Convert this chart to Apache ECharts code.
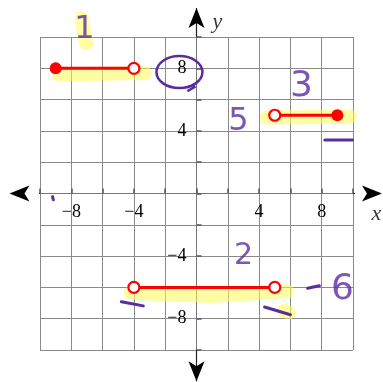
<!DOCTYPE html>
<html>
<head>
<meta charset="utf-8">
<script src="https://cdn.jsdelivr.net/npm/echarts@6/dist/echarts.min.js"></script>
<style>
  html, body { margin: 0; padding: 0; background: #fff; }
  #chart { width: 383px; height: 382px; }
</style>
</head>
<body>
<div id="chart"></div>
<script>
// axis range and labelled ticks
const axisMin = -10
const axisMax = 10
const gridStep = 2
const tickLabels = [-8, -4, 4, 8]

// the three pieces of the graph, with their end point kinds
const seg1 = [[-9, 8], [-4, 8]]
const seg1Ends = ['closed', 'open']
const seg2 = [[-4, -6], [5, -6]]
const seg2Ends = ['open', 'open']
const seg3 = [[5, 5], [9, 5]]
const seg3Ends = ['open', 'closed']

// arrow arms beyond the grid
const xArms = [[[-10, 0], [-11.95, 0]], [[10, 0], [11.85, 0]]]
const yArms = [[[0, 10], [0, 11.85]], [[0, -10], [0, -12.0]]]

// yellow highlighter strokes
const highlights = [
  [[-8.8, 7.6], [-3.3, 7.7]],
  [[4.5, 4.85], [9.8, 4.9]],
  [[-4.2, -6.35], [1.0, -6.55], [5.8, -6.25]],
  [[5.6, -7.5], [5.9, -7.6]],
  [[-7.35, 11.2], [-7.05, 9.6]]
]

// purple pen strokes
const penStrokes = [
  [[8.2, 3.42], [9.97, 3.42]],
  [[-4.8, -6.92], [-3.4, -7.18]],
  [[4.35, -7.25], [6.0, -7.75]],
  [[7.1, -6.05], [7.85, -5.9]],
  [[-9.2, -0.2], [-9.15, -0.4]]
]

// purple hand written notes: [x, y, text, size]
const notes = [
  [-7.16, 10.45, '1', 32],
  [6.71, 6.8, '3', 36],
  [2.68, 4.57, '5', 32],
  [3.0, -3.99, '2', 30],
  [9.33, -6.17, '6', 36]
]
const circledNote = [-1.09, 7.76]

const axisNames = [[11.5, -1.31, 'x'], [1.34, 10.96, 'y']]

const red = '#ff0000'
const purple = '#5a2ca0'

const myChart = echarts.init(document.getElementById('chart'))

function fmt(v) {
  return tickLabels.indexOf(v) >= 0 ? String(v).replace('-', '\u2212') : ''
}

function segSeries(points, ends) {
  return {
    type: 'line',
    z: 5,
    data: points.map((p, i) => ({
      value: p,
      symbolSize: ends[i] === 'closed' ? 12 : 11,
      itemStyle: ends[i] === 'closed'
        ? { color: red, borderColor: red, borderWidth: 0 }
        : { color: '#fff', borderColor: red, borderWidth: 2.2 }
    })),
    symbol: 'circle',
    showSymbol: true,
    lineStyle: { color: red, width: 3 },
    itemStyle: { color: red },
    clip: false,
    silent: true
  }
}

let series = []
highlights.forEach(h => {
  series.push({
    type: 'line',
    z: 2,
    data: h,
    symbol: 'none',
    lineStyle: { color: 'rgba(255, 250, 90, 0.55)', width: 14, cap: 'round', join: 'round' },
    clip: false,
    silent: true
  })
})
penStrokes.forEach(s => {
  series.push({
    type: 'line',
    z: 6,
    data: s,
    symbol: 'none',
    lineStyle: { color: purple, width: 3, cap: 'round' },
    clip: false,
    silent: true
  })
})
xArms.concat(yArms).forEach((arm, k) => {
  const rot = [90, -90, 0, 180][k]
  series.push({
    type: 'line',
    z: 4,
    data: [
      { value: arm[0], symbol: 'none' },
      { value: arm[1], symbol: 'arrow', symbolSize: [12, 20], symbolRotate: rot }
    ],
    showSymbol: true,
    lineStyle: { color: '#222', width: 1.2 },
    itemStyle: { color: '#000' },
    clip: false,
    silent: true
  })
})
series.push(segSeries(seg1, seg1Ends))
series.push(segSeries(seg2, seg2Ends))
series.push(segSeries(seg3, seg3Ends))
series.push({
  type: 'scatter',
  z: 7,
  symbolSize: 0,
  clip: false,
  silent: true,
  data: notes.map(n => ({
    value: [n[0], n[1]],
    label: {
      show: true,
      position: 'inside',
      formatter: n[2],
      color: purple,
      fontSize: n[3],
      fontFamily: 'DejaVu Sans',
      fontWeight: 'normal'
    }
  }))
})
series.push({
  type: 'scatter',
  z: 7,
  symbolSize: 0,
  clip: false,
  silent: true,
  data: axisNames.map(n => ({
    value: [n[0], n[1]],
    label: {
      show: true,
      position: 'inside',
      formatter: n[2],
      color: '#000',
      fontSize: 22,
      fontStyle: 'italic',
      fontFamily: 'Liberation Serif'
    }
  }))
})

const axisCommon = {
  type: 'value',
  min: axisMin,
  max: axisMax,
  interval: gridStep,
  axisLine: { show: true, onZero: false, lineStyle: { color: '#777', width: 1 } },
  axisTick: { show: true, inside: true, length: 5, lineStyle: { color: '#555', width: 1.5 } },
  splitLine: { show: true, lineStyle: { color: '#8a8a8a', width: 1 } },
  axisLabel: {
    formatter: fmt,
    color: '#000',
    fontSize: 18,
    fontFamily: 'Liberation Serif',
    margin: 10,
    showMinLabel: true,
    showMaxLabel: true
  }
}

myChart.setOption({
  animation: false,
  grid: { left: 40, right: 30, top: 37, bottom: 32 },
  xAxis: Object.assign({}, axisCommon, { position: 'bottom', offset: -156.5 }),
  yAxis: Object.assign({}, axisCommon, {
    position: 'left',
    offset: -156.5,
    axisLabel: Object.assign({}, axisCommon.axisLabel, { margin: 10 })
  }),
  series: series
})

// circle drawn round the 8 label, with its little tail
const c = myChart.convertToPixel({ gridIndex: 0 }, circledNote)
myChart.setOption({
  graphic: [
    {
      type: 'ellipse',
      z: 10,
      shape: { cx: c[0], cy: c[1], rx: 23, ry: 16 },
      style: { fill: 'none', stroke: purple, lineWidth: 2.5 },
      silent: true
    },
    {
      type: 'polyline',
      z: 10,
      shape: { points: [[c[0] + 8, c[1] + 19], [c[0] + 15, c[1] + 15], [c[0] + 13, c[1] + 12]] },
      style: { fill: 'none', stroke: purple, lineWidth: 2.5 },
      silent: true
    }
  ]
})
</script>
</body>
</html>
